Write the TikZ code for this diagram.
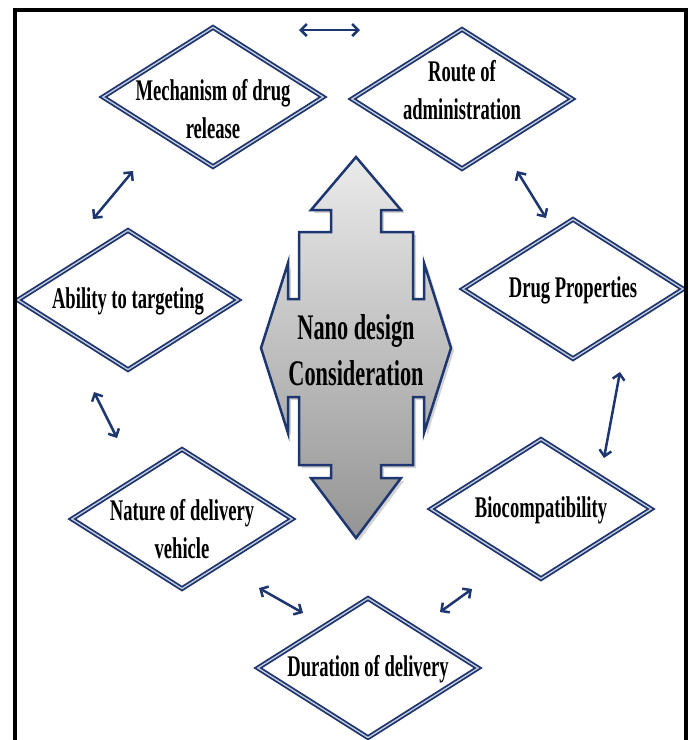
\documentclass[tikz,border=0pt]{standalone}
\usepackage{fontspec}
\usepackage{tikz}
\usetikzlibrary{shapes.geometric,arrows.meta,shadows}
\newfontfamily\condfont[FakeStretch=0.62]{Liberation Serif}
\definecolor{dnavy}{RGB}{30,54,112}
\newcommand{\dlabel}[2][0pt]{\smash{\makebox[0pt]{\raisebox{#1}{\begin{tabular}{@{}c@{}}#2\end{tabular}}}}}

\begin{document}
\begin{tikzpicture}[x=1pt,y=-1pt,>={Straight Barb[length=6pt,width=12pt]},dia/.style={diamond,draw=dnavy,line width=1.8pt,double=dnavy!25!white,double distance=1.3pt,fill=white,minimum width=221pt,minimum height=140pt,inner sep=0pt,font=\condfont\bfseries\fontsize{30}{38}\selectfont},link/.style={<->,draw=dnavy,line width=2.5pt}]
\useasboundingbox (0,0) rectangle (691,740);
\foreach \n/\x/\y/\r/\t in {mech/213/97/-21pt/{Mechanism of drug\\release},route/462/99/0pt/{Route of\\administration},drug/573/289/-7pt/{Drug Properties},bio/541/509/-7pt/{Biocompatibility},dur/368/668/-7pt/{Duration of delivery},veh/182/519/-19pt/{Nature of delivery\\vehicle},target/128/300/-7pt/{Ability to targeting}}{\node[dia] (\n) at (\x,\y) {\dlabel[\r]{\t}};};
% arrows between the boxes
\foreach \i/\a/\b/\c/\d in {1/299/30/360/30,2/517/171/546/218,3/620/372/604/458,4/472/589/440/612,5/303/613/259/588,6/117/438/94/392,7/93/219/133/171}{\coordinate (p\i) at (\a,\b); \coordinate (q\i) at (\c,\d); \draw[link] (p\i) -- (q\i);};
% centre arrow
\begin{scope}[shift={(356,348)}]
\draw[dnavy,line width=2.5pt,top color=black!8,bottom color=black!42,drop shadow={opacity=0.35,shadow xshift=3pt,shadow yshift=-3pt}] (0,-191) -- (45,-138) -- (25,-138) -- (25,-116) -- (57,-116) -- (57,-49) -- (68,-49) -- (68,-85) -- (95,0) -- (68,85) -- (68,49) -- (57,49) -- (57,117) -- (25,117) -- (25,130) -- (45,130) -- (0,190) -- (-45,130) -- (-25,130) -- (-25,117) -- (-57,117) -- (-57,49) -- (-68,49) -- (-68,85) -- (-95,0) -- (-68,-85) -- (-68,-49) -- (-57,-49) -- (-57,-116) -- (-25,-116) -- (-25,-138) -- (-45,-138) -- cycle;
\end{scope}
\node[font=\condfont\bfseries\fontsize{36}{46}\selectfont,align=center,inner sep=0pt] (nano) at (356,350) {Nano design\\Consideration};
\draw[line width=4.5pt] (15,745) -- (15,10) -- (686,10) -- (686,745);
\end{tikzpicture}
\end{document}
